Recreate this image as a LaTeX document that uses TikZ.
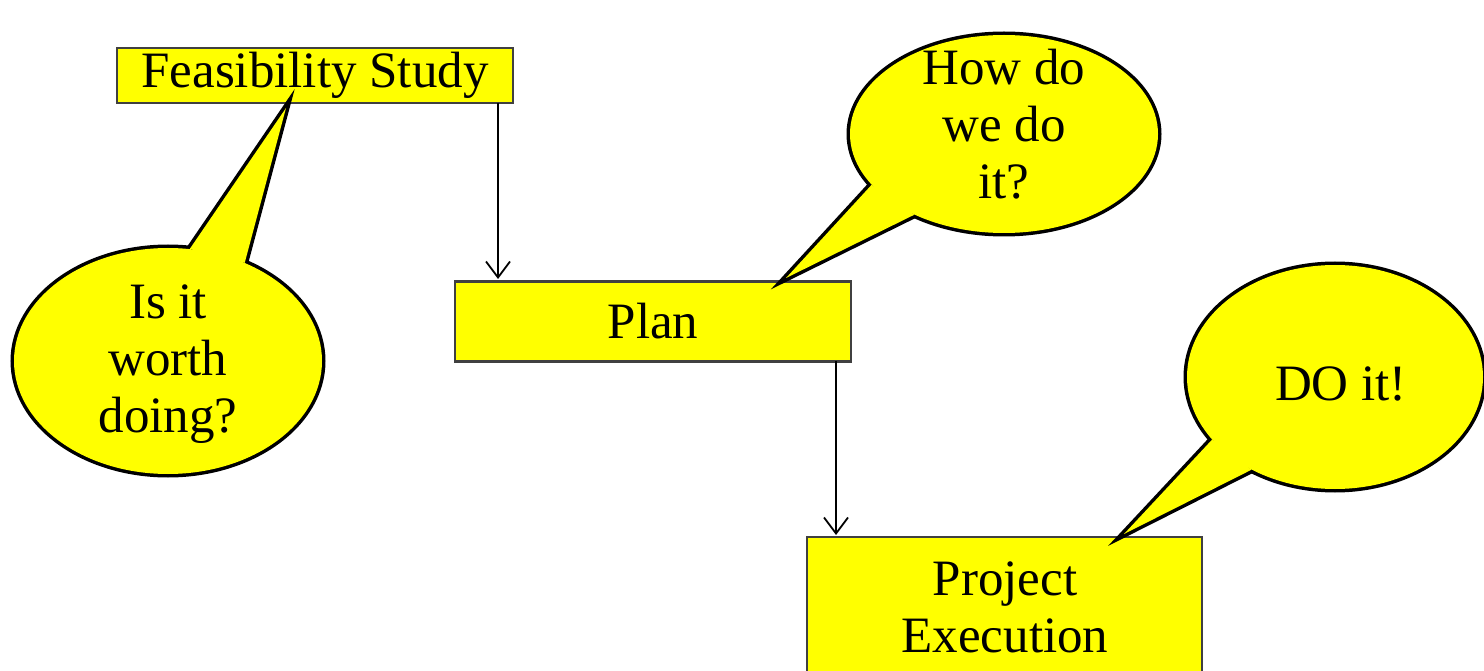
\documentclass[tikz,border=0pt]{standalone}
\usepackage{fontspec}
\setmainfont{Liberation Serif}
\usetikzlibrary{shapes.geometric,arrows.meta}
\definecolor{callyellow}{RGB}{255,255,0}
\tikzset{
  stagebox/.style={draw=black!75, line width=2.2pt, fill=callyellow, inner sep=0pt, align=center,
    font=\fontsize{51}{57}\selectfont},
  bubble/.style={ellipse, inner sep=0pt, align=center, font=\fontsize{51}{57}\selectfont},
  bubbleline/.style={draw=black, line width=7pt, line join=miter},
  bubblefill/.style={fill=callyellow},
  flow/.style={draw=black, line width=1.8pt, -{Straight Barb[length=16pt,width=24pt,line width=1.8pt]}},
}
\begin{document}
\begin{tikzpicture}[x=1pt,y=-1pt]
\useasboundingbox (0,0) rectangle (1484,671);
\clip (0,0) rectangle (1484,671);
\fill[white] (0,0) rectangle (1484,671);

% boxes
\node[stagebox, minimum width=396pt, minimum height=55pt] (feas) at (315,75.5) {Feasibility Study};
\node[stagebox, minimum width=396pt, minimum height=80pt] (plan) at (653,321.5) {Plan};
\node[stagebox, minimum width=395pt, minimum height=160pt] (exec) at (1004.5,617) {};
\node[font=\fontsize{51}{57}\selectfont, align=center, inner sep=0pt] (exectext) at (1005,607) {Project\\Execution};

% connectors
\coordinate (a1s) at (498,103);
\coordinate (a1e) at (498,279);
\coordinate (a2s) at (836,361);
\coordinate (a2e) at (836,535);
\draw[flow] (a1s) -- (a1e);
\draw[flow] (a2s) -- (a2e);

% bubble shapes (named ellipse nodes)
\node[bubble, minimum width=308pt, minimum height=226pt] (b1) at (168,361) {};
\node[bubble, minimum width=308pt, minimum height=198pt] (b2) at (1004,134) {};
\node[bubble, minimum width=296pt, minimum height=224pt] (b3) at (1335,377) {};
\coordinate (t1) at (286,108);
\coordinate (t2) at (786,278);
\coordinate (t3) at (1124,534);

% outlines (double width), then fills
\path[bubbleline] (168,361) ellipse[x radius=154, y radius=113];
\path[bubbleline] (1004,134) ellipse[x radius=154, y radius=99];
\path[bubbleline] (1335,377) ellipse[x radius=148, y radius=112];
\draw[bubbleline] (b1.79) -- (t1) -- (b1.52) -- cycle;
\draw[bubbleline] (b2.201) -- (t2) -- (b2.222) -- cycle;
\draw[bubbleline] (b3.207) -- (t3) -- (b3.228) -- cycle;
\fill[bubblefill] (168,361) ellipse[x radius=154, y radius=113];
\fill[bubblefill] (1004,134) ellipse[x radius=154, y radius=99];
\fill[bubblefill] (1335,377) ellipse[x radius=148, y radius=112];
\fill[bubblefill] (b1.79) -- (t1) -- (b1.52) -- cycle;
\fill[bubblefill] (b2.201) -- (t2) -- (b2.222) -- cycle;
\fill[bubblefill] (b3.207) -- (t3) -- (b3.228) -- cycle;

% bubble texts
\node[bubble] (b1text) at (168,364) {Is it\\worth\\doing?};
\node[bubble] (b2text) at (1004,124) {How do\\we do\\it?};
\node[bubble] (b3text) at (1341,384) {DO it!};
\end{tikzpicture}
\end{document}
